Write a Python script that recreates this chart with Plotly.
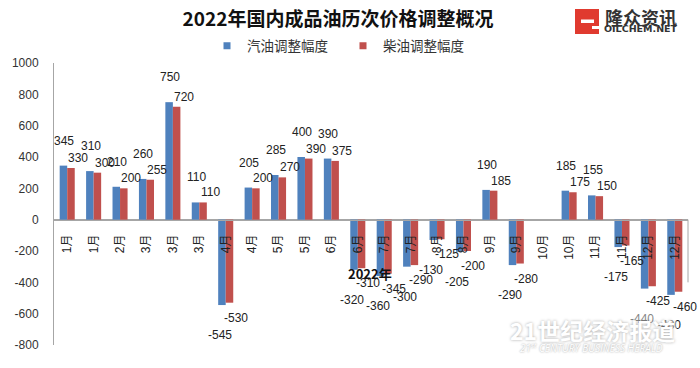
import plotly.graph_objects as go

# ---------------- data ----------------
months = ["1月", "1月", "2月", "3月", "3月", "3月", "4月", "4月", "5月", "5月", "6月", "6月",
          "7月", "7月", "8月", "8月", "9月", "9月", "10月", "10月", "11月", "11月", "12月", "12月"]
gasoline = [345, 310, 210, 260, 750, 110, -545, 205, 285, 400, 390, -320,
            -360, -300, -130, -205, 190, -290, None, 185, 155, -175, -440, -480]
diesel = [330, 300, 200, 255, 720, 110, -530, 200, 270, 390, 375, -310,
          -345, -290, -125, -200, 185, -280, None, 175, 150, -165, -425, -460]
y_ticks = [1000, 800, 600, 400, 200, 0, -200, -400, -600, -800]
series_names = ["汽油调整幅度", "柴油调整幅度"]

title_text = "2022年国内成品油历次价格调整概况"

# ---------------- styling ----------------
W, H = 700, 368
ML, MR, MT, MB = 54, 12, 63, 23
BLUE = "#4F81BD"
RED = "#C0504D"
NUM_FONT = "Liberation Sans, Noto Sans CJK SC"
CJK_FONT = "Noto Sans CJK SC"
AXIS_COLOR = "#a6a6a6"

idx = list(range(len(months)))

def px(x):
    return (x - ML) / (W - ML - MR)

def py(y):
    return (H - MB - y) / (H - MT - MB)

fig = go.Figure()
fig.add_trace(go.Bar(x=idx, y=gasoline, name=series_names[0], marker_color=BLUE,
                     marker_line_width=0, showlegend=False))
fig.add_trace(go.Bar(x=idx, y=diesel, name=series_names[1], marker_color=RED,
                     marker_line_width=0, showlegend=False))
# legend proxies (small square markers as in the original)
for name, col in zip(series_names, [BLUE, RED]):
    fig.add_trace(go.Scatter(x=[None], y=[None], mode="markers", name=name,
                             marker=dict(symbol="square", size=7, color=col)))

annotations = []
# data labels anchored at each bar's value
for i in idx:
    for vals, dx_pos, dx_neg, dy_pos, dy_neg in (
        (gasoline, -3, -6, 25, -30),
        (diesel, 11, 10, 10, -15),
    ):
        v = vals[i]
        if v is None:
            continue
        annotations.append(dict(
            x=i, y=v, xref="x", yref="y", text=str(v), showarrow=False,
            xanchor="center", yanchor="middle",
            xshift=dx_pos if v >= 0 else dx_neg,
            yshift=dy_pos if v >= 0 else dy_neg,
            font=dict(family=NUM_FONT, size=12, color="#222222"),
        ))

# stray "2022年" text present in the original picture
annotations.append(dict(x=px(370), y=py(273), xref="paper", yref="paper", text="<b>2022年</b>",
                        showarrow=False, xanchor="center", yanchor="middle",
                        font=dict(family=CJK_FONT, size=13, color="#111111")))

# logo text
annotations.append(dict(x=px(641), y=py(17), xref="paper", yref="paper", text="<b>隆众资讯</b>",
                        showarrow=False, xanchor="center", yanchor="middle",
                        font=dict(family=CJK_FONT, size=18, color="#333333")))
annotations.append(dict(x=px(641), y=py(28.5), xref="paper", yref="paper", text="<b>OILCHEM.NET</b>",
                        showarrow=False, xanchor="center", yanchor="middle",
                        font=dict(family="DejaVu Sans", size=9.5, color="#333333")))

# watermark
annotations.append(dict(x=px(592), y=py(330), xref="paper", yref="paper", text="<b>21世纪经济报道</b>",
                        showarrow=False, xanchor="center", yanchor="middle",
                        bgcolor="rgba(255,255,255,0.45)",
                        font=dict(family=CJK_FONT, size=23, color="#ffffff",
                                  shadow="0px 0px 3px rgba(0,0,0,0.35)")))
annotations.append(dict(x=px(591), y=py(348), xref="paper", yref="paper",
                        text="<i>21<sup>st</sup> CENTURY BUSINESS HERALD</i>",
                        showarrow=False, xanchor="center", yanchor="middle",
                        font=dict(family="Open Sans", size=10, color="#ffffff",
                                  shadow="0px 0px 2px rgba(0,0,0,0.45)")))

shapes = [
    # logo icon
    dict(type="rect", xref="paper", yref="paper", x0=px(575), x1=px(599), y0=py(34), y1=py(9),
         fillcolor="#E03A2F", line_width=0, layer="above"),
    dict(type="rect", xref="paper", yref="paper", x0=px(581), x1=px(594), y0=py(23), y1=py(19.5),
         fillcolor="#ffffff", line_width=0, layer="above"),
    dict(type="rect", xref="paper", yref="paper", x0=px(592), x1=px(599), y0=py(29), y1=py(26),
         fillcolor="#ffffff", line_width=0, layer="above"),
    # right border fragment
    dict(type="line", xref="paper", yref="y", x0=1, x1=1, y0=0, y1=-400,
         line=dict(color=AXIS_COLOR, width=1)),
]

fig.update_layout(
    width=W, height=H,
    margin=dict(l=ML, r=MR, t=MT, b=MB, pad=0),
    paper_bgcolor="white", plot_bgcolor="white",
    barmode="group", bargap=0.43, bargroupgap=0,
    font=dict(family=NUM_FONT, size=12, color="#333333"),
    title=dict(text="<b>" + title_text + "</b>", x=338 / W, y=1 - 19 / H,
               xanchor="center", yanchor="middle",
               font=dict(family=CJK_FONT, size=19, color="#111111")),
    legend=dict(orientation="h", x=px(207), y=py(46), xanchor="left", yanchor="middle",
                font=dict(family=CJK_FONT, size=13.5, color="#333333"),
                itemwidth=30, entrywidth=91, bgcolor="rgba(0,0,0,0)"),
    xaxis=dict(range=[-0.5, len(months) - 0.5], tickmode="array", tickvals=idx, ticktext=months,
               tickangle=-90, anchor="free", position=800 / 1800,
               showline=True, linecolor=AXIS_COLOR, linewidth=1, showgrid=False, zeroline=False,
               ticks="", ticklabelstandoff=9,
               tickfont=dict(family=NUM_FONT, size=12, color="#222222")),
    yaxis=dict(range=[-800, 1000], tickmode="array", tickvals=y_ticks,
               ticktext=[str(t) for t in y_ticks], showgrid=False,
               zeroline=True, zerolinecolor=AXIS_COLOR, zerolinewidth=1,
               showline=True, linecolor=AXIS_COLOR, linewidth=1, ticks="",
               ticklabelstandoff=12,
               tickfont=dict(family=NUM_FONT, size=12, color="#333333")),
    annotations=annotations,
    shapes=shapes,
)

fig.write_html("out.html",
               config={"displayModeBar": False},
               post_script="document.body.style.margin='0';document.body.style.overflow='hidden';")
